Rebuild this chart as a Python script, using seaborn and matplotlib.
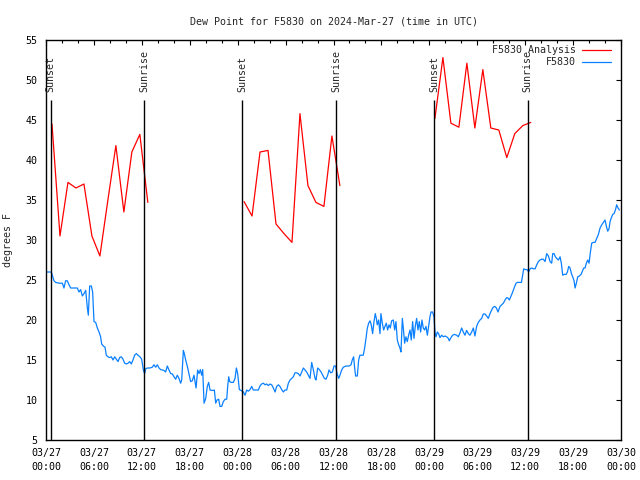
import numpy as np
import pandas as pd
import seaborn as sns
import matplotlib
matplotlib.use("Agg")
import matplotlib.pyplot as plt
import matplotlib.dates as mdates
from matplotlib.lines import Line2D

START = pd.Timestamp("2024-03-27 00:00")

# hourly analysis values, one block per night (hours after START)
ana_hours_1 = [0.75, 1.75, 2.75, 3.75, 4.75, 5.75, 6.75, 7.75, 8.75, 9.75, 10.75, 11.75, 12.75]
ana_dew_1 = [44.5, 30.5, 37.2, 36.5, 37.0, 30.5, 28.0, 35.0, 41.8, 33.5, 41.0, 43.2, 34.7]
ana_hours_2 = [24.8, 25.8, 26.8, 27.8, 28.8, 29.8, 30.8, 31.8, 32.8, 33.8, 34.8, 35.8, 36.8]
ana_dew_2 = [34.8, 33.0, 41.0, 41.2, 32.0, 30.8, 29.7, 45.8, 36.8, 34.7, 34.2, 43.0, 36.8]
ana_hours_3 = [48.7, 49.7, 50.7, 51.7, 52.7, 53.7, 54.7, 55.7, 56.7, 57.7, 58.7, 59.7, 60.7]
ana_dew_3 = [45.2, 52.8, 44.6, 44.1, 52.1, 44.0, 51.3, 44.0, 43.75, 40.3, 43.3, 44.3, 44.7]

# station observations
obs_hours_1 = [0.0, 0.25, 0.67, 0.79, 1.0, 1.21, 1.63, 2.05, 2.25, 2.46,
               2.67, 2.88, 3.09, 3.71, 3.92, 4.13, 4.34, 4.55, 4.76, 4.97,
               5.18, 5.30, 5.47, 5.68, 5.84, 6.01, 6.22, 6.43, 6.64, 6.84,
               6.97, 7.18, 7.39, 7.55, 7.76, 7.97, 8.18, 8.39, 8.60, 8.81,
               9.02, 9.22, 9.43, 9.64, 9.85, 10.06, 10.27, 10.48, 10.68, 10.89,
               11.10, 11.31, 11.52, 11.77, 11.98, 12.19, 12.35, 12.48, 12.69, 13.02,
               13.31, 13.52, 13.73, 13.94, 14.15, 14.36, 14.57, 14.77, 14.98, 15.19,
               15.40, 15.61, 15.82, 16.03, 16.24, 16.44, 16.65, 16.86, 16.99, 17.20,
               17.32, 17.49, 17.70, 17.90, 18.11, 18.32, 18.53]
obs_dew_1 = [26.0, 26.0, 26.0, 25.6, 24.9, 24.7, 24.6, 24.6, 24.0, 24.9,
             24.9, 24.4, 24.0, 24.0, 24.0, 23.5, 23.8, 23.0, 23.3, 23.7,
             21.5, 20.6, 24.25, 24.25, 23.5, 19.8, 19.7, 19.0, 18.5, 17.9,
             17.0, 16.75, 16.6, 15.6, 15.4, 15.3, 15.4, 15.0, 15.4, 15.1,
             14.8, 15.3, 15.4, 15.1, 14.6, 14.5, 14.6, 14.8, 14.5, 15.0,
             15.6, 15.8, 15.6, 15.4, 15.1, 13.75, 13.3, 13.9, 14.0, 14.0,
             14.1, 14.4, 14.1, 14.4, 14.0, 13.8, 13.75, 13.7, 13.5, 14.25,
             13.75, 13.3, 13.25, 12.9, 12.6, 13.1, 12.7, 12.1, 12.5, 16.2,
             15.8, 15.0, 14.2, 13.3, 12.3, 12.4, 13.1]
obs_hours_2 = [18.79, 18.99, 19.16, 19.33, 19.49, 19.62, 19.79, 20.0, 20.20, 20.37,
               20.54, 20.75, 20.96, 21.08, 21.25, 21.41, 21.62, 21.79, 22.0, 22.21,
               22.42, 22.63, 22.75, 22.88, 23.0, 23.17, 23.46, 23.67, 23.84, 24.0,
               24.21, 24.42, 24.71, 24.92, 25.13, 25.34, 25.55, 25.76, 25.96, 26.26,
               26.59, 26.80, 27.0, 27.22, 27.43, 27.63, 27.84, 28.05, 28.26, 28.47,
               28.68, 28.89, 29.10, 29.30, 29.51, 29.72, 29.93, 30.14, 30.35, 30.56,
               30.76, 30.97, 31.18, 31.39, 31.60, 31.81, 32.02, 32.23, 32.43, 32.64,
               32.85, 33.06, 33.27, 33.48, 33.69, 33.81, 34.02, 34.23, 34.44, 34.65,
               34.86, 35.06, 35.27, 35.44, 35.65, 35.86, 36.07, 36.27, 36.44, 36.65]
obs_dew_2 = [11.5, 13.75, 13.3, 13.8, 13.1, 13.8, 9.6, 10.2, 11.7, 12.2,
             11.25, 11.2, 11.2, 11.25, 9.6, 10.0, 10.1, 9.2, 9.2, 9.8,
             10.1, 10.1, 11.7, 12.9, 12.3, 12.2, 12.2, 12.7, 14.0, 13.3,
             11.3, 11.2, 11.0, 10.6, 11.25, 11.1, 11.3, 11.7, 11.25, 11.25,
             11.25, 11.75, 12.0, 12.1, 11.9, 12.0, 11.8, 12.0, 11.9, 11.5,
             11.0, 11.7, 11.9, 11.7, 11.3, 11.0, 11.25, 11.25, 12.1, 12.5,
             12.7, 12.9, 13.4, 13.4, 13.3, 13.0, 13.5, 14.0, 13.75, 13.5,
             13.1, 12.7, 14.7, 13.75, 12.7, 12.5, 14.0, 13.8, 13.5, 13.1,
             12.7, 12.6, 13.1, 13.75, 13.4, 13.5, 14.25, 14.25, 13.3, 12.7]
obs_hours_3 = [36.81, 37.02, 37.23, 37.44, 37.64, 37.98, 38.19, 38.35, 38.52, 38.65,
               38.77, 38.98, 39.15, 39.31, 39.52, 39.73, 39.90, 40.07, 40.23, 40.40,
               40.57, 40.73, 40.90, 41.07, 41.23, 41.36, 41.48, 41.65, 41.82, 41.94,
               42.11, 42.28, 42.44, 42.61, 42.78, 42.95, 43.11, 43.28, 43.49, 43.66,
               43.82, 43.99, 44.16, 44.32, 44.45, 44.62, 44.74, 44.91, 45.07, 45.24,
               45.41, 45.58, 45.74, 45.91, 46.08, 46.24, 46.41, 46.58, 46.74, 46.91,
               47.08, 47.24, 47.41, 47.58, 47.75, 47.91, 48.08, 48.21, 48.41, 48.58,
               48.71, 48.83, 49.0, 49.16, 49.33, 49.54, 49.75, 49.96, 50.17, 50.38,
               50.50, 50.71, 50.92, 51.13, 51.42, 51.63, 51.84, 52.05, 52.25, 52.46,
               52.67, 52.88, 53.09, 53.30, 53.51, 53.71, 53.92, 54.13, 54.34, 54.55,
               54.76, 54.97, 55.18, 55.38, 55.6, 55.8, 56.0, 56.2, 56.4, 56.6,
               56.85, 57.06]
obs_dew_3 = [13.1, 13.75, 14.1, 14.2, 14.25, 14.25, 14.4, 15.0, 15.4, 14.0,
             13.0, 13.0, 15.0, 15.6, 15.6, 15.6, 16.5, 17.7, 18.96, 19.6,
             19.9, 19.4, 18.3, 19.8, 20.8, 20.2, 19.4, 20.0, 18.3, 20.8,
             19.6, 18.75, 19.2, 19.6, 18.75, 19.4, 19.0, 19.9, 20.0, 18.75,
             19.8, 17.5, 16.9, 16.5, 16.0, 20.2, 19.0, 17.1, 17.9, 17.3,
             18.1, 18.75, 17.5, 19.8, 17.7, 19.2, 20.2, 18.75, 19.8, 18.5,
             20.0, 19.0, 18.75, 19.2, 18.1, 19.2, 20.4, 21.0, 21.0, 20.4,
             18.5, 17.9, 18.5, 18.3, 17.8, 18.1, 17.9, 18.0, 17.9, 17.7,
             17.4, 17.8, 18.1, 18.2, 18.1, 17.9, 18.4, 19.0, 18.5, 18.1,
             18.7, 18.3, 18.1, 18.5, 19.0, 18.0, 19.2, 19.7, 20.0, 20.2,
             20.75, 20.75, 20.5, 20.2, 20.8, 21.25, 21.6, 21.7, 21.5, 21.0,
             21.7, 21.9]
obs_hours_4 = [57.27, 57.48, 57.69, 57.90, 58.02, 58.19, 58.36, 58.52, 58.69, 58.86,
               59.02, 59.28, 59.53, 59.69, 59.82, 60.03, 60.24, 60.44, 60.61, 60.82,
               61.03, 61.24, 61.45, 61.65, 61.86, 62.07, 62.28, 62.49, 62.70, 62.91,
               63.12, 63.32, 63.45, 63.62, 63.78, 63.95, 64.16, 64.37, 64.53, 64.70,
               64.87, 65.12, 65.29, 65.45, 65.62, 65.79, 65.95, 66.12, 66.25, 66.41,
               66.58, 66.79, 67.0, 67.16, 67.33, 67.50, 67.66, 67.83, 68.0, 68.17,
               68.33, 68.54, 68.75, 68.96, 69.17, 69.38, 69.59, 69.79, 70.0, 70.17,
               70.34, 70.50, 70.63, 70.80, 70.96, 71.13, 71.30, 71.46, 71.63, 71.80]
obs_dew_4 = [22.1, 22.5, 22.8, 22.7, 22.5, 22.9, 23.3, 23.75, 24.2, 24.6,
             24.7, 24.7, 24.7, 25.6, 26.4, 26.3, 26.3, 26.0, 26.4, 26.5,
             26.4, 26.4, 26.9, 27.3, 27.5, 27.6, 27.6, 27.3, 28.3, 28.0,
             27.3, 27.1, 28.3, 28.3, 27.9, 27.7, 27.5, 27.9, 27.1, 25.6,
             25.7, 25.7, 26.0, 26.7, 26.5, 25.8, 25.4, 24.9, 24.0, 24.6,
             25.4, 25.5, 25.7, 26.1, 26.5, 26.5, 27.1, 27.5, 27.1, 28.5,
             29.6, 29.7, 29.7, 30.2, 30.7, 31.5, 31.9, 32.2, 32.5, 31.7,
             31.1, 31.4, 32.3, 32.8, 33.2, 33.3, 33.75, 34.4, 34.0, 33.75]

sun_hours = [0.59, 12.28, 24.58, 36.33, 48.62, 60.31]
sun_labels = ["Sunset", "Sunrise", "Sunset", "Sunrise", "Sunset", "Sunrise"]

# build frames
ana = pd.DataFrame({
    "hours": ana_hours_1 + ana_hours_2 + ana_hours_3,
    "dew": ana_dew_1 + ana_dew_2 + ana_dew_3,
    "night": [1] * len(ana_hours_1) + [2] * len(ana_hours_2) + [3] * len(ana_hours_3),
})
obs = pd.DataFrame({
    "hours": np.concatenate([obs_hours_1, obs_hours_2, obs_hours_3, obs_hours_4]),
    "dew": np.concatenate([obs_dew_1, obs_dew_2, obs_dew_3, obs_dew_4]),
})
ana["time"] = START + pd.to_timedelta(ana["hours"], unit="h")
obs["time"] = START + pd.to_timedelta(obs["hours"], unit="h")
sun_times = START + pd.to_timedelta(sun_hours, unit="h")

RED = "#ff0000"
BLUE = "#0a80ff"

sns.set_theme(style="white")
plt.rcParams["font.family"] = ["DejaVu Sans Mono", "DejaVu Sans"]
FS = 7.2

fig = plt.figure(figsize=(6.4, 4.8), dpi=100)
ax = fig.add_axes([46 / 640, 40 / 480, 575 / 640, 400 / 480])

sns.lineplot(data=ana, x="time", y="dew", units="night", estimator=None,
             color=RED, linewidth=0.9, legend=False, ax=ax)
sns.lineplot(data=obs, x="time", y="dew", estimator=None, sort=False,
             color=BLUE, linewidth=0.9, legend=False, ax=ax)

ax.vlines(sun_times, 5, 47.5, color="black", linewidth=1)
for t, lab in zip(sun_times, sun_labels):
    ax.text(t, 48.5, lab, rotation=90, ha="center", va="bottom", fontsize=FS)

ax.set_xlim(START, START + pd.Timedelta(hours=72))
ax.set_ylim(5, 55)
ax.set_yticks(range(5, 56, 5))
ax.xaxis.set_major_locator(mdates.HourLocator(byhour=[0, 6, 12, 18]))
ax.xaxis.set_minor_locator(mdates.HourLocator(interval=2))
ax.xaxis.set_major_formatter(mdates.DateFormatter("%m/%d\n%H:%M"))

ax.tick_params(which="both", direction="in", top=True, right=True,
               colors="black", labelsize=FS, width=0.8)
ax.tick_params(which="major", length=3.6, pad=6)
ax.tick_params(which="minor", length=2.2)
for lab in ax.get_xticklabels():
    lab.set_linespacing(1.45)
for sp in ax.spines.values():
    sp.set_color("black")
    sp.set_linewidth(1)

ax.set_xlabel("")
ax.set_ylabel("degrees F", fontsize=FS, labelpad=9)
ax.set_title("Dew Point for F5830 on 2024-Mar-27 (time in UTC)", fontsize=FS, pad=11)

handles = [Line2D([], [], color=RED, lw=0.9), Line2D([], [], color=BLUE, lw=0.9)]
ax.legend(handles, ["F5830 Analysis", "F5830"], loc="upper right",
          bbox_to_anchor=(1.0, 1.012), frameon=False,
          markerfirst=False, fontsize=FS, handlelength=2.9, handletextpad=0.6,
          labelspacing=0.2, borderaxespad=0.8, borderpad=0.2)

fig.savefig("out.png", dpi=100)
